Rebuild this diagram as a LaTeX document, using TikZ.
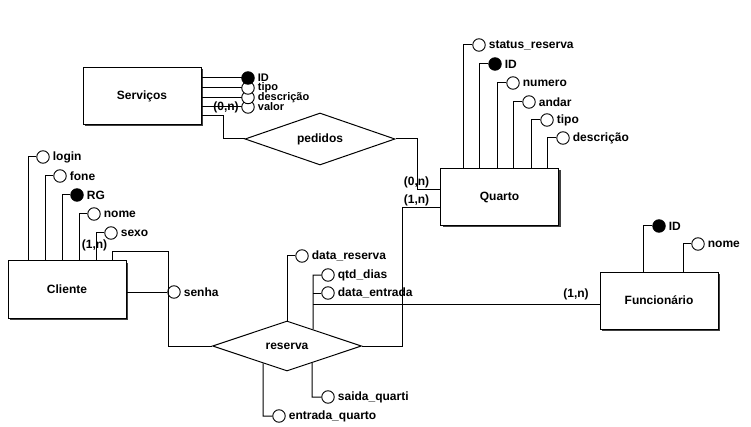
\documentclass[tikz,border=0pt]{standalone}
\usepackage{fontspec}
\setmainfont{Liberation Sans}
\usetikzlibrary{shapes.geometric,shadows}
\begin{document}
\begin{tikzpicture}[x=1pt,y=-1pt,
  every node/.style={font=\fontsize{12}{13}\selectfont\bfseries},
  entity/.style={draw, fill=white, line width=1pt, minimum width=118pt,
    minimum height=57pt, inner sep=0pt,
    drop shadow={shadow xshift=2pt, shadow yshift=-2pt, opacity=1, fill=black!75}},
  rel/.style={draw, fill=white, diamond, aspect=3, inner sep=0pt,
    minimum width=150pt, minimum height=50pt, line width=1pt},
  attr/.style={draw, circle, fill=white, minimum size=12.5pt, inner sep=0pt, line width=0.9pt},
  key/.style={attr, fill=black},
  lbl/.style={anchor=west, inner sep=0pt, xshift=3pt},
  stacklbl/.style={lbl, font=\fontsize{11}{11}\selectfont\bfseries},
  card/.style={inner sep=0pt},
  conn/.style={line width=1pt}
]
\useasboundingbox[fill=white] (0,0) rectangle (751,427);

% ---------- entities ----------
\node[entity] (serv) at (142,96)    {Serviços};
\node[entity] (qua)  at (499.5,197) {Quarto};
\node[entity] (cli)  at (67,289.5)  {Cliente};
\node[entity] (fun)  at (659,300.5) {Funcionário};

% ---------- relationships ----------
\node[rel, minimum height=52pt] (ped) at (320,139) {pedidos};
\node[rel, minimum width=149pt, minimum height=50pt] (res) at (287,346) {reserva};

% ---------- Serviços attributes (stacked, lowest drawn first) ----------
\foreach \y in {107, 97.5, 88, 78}
  \draw[conn] (serv.east |- 0,\y) -- (248,\y);
\node[attr] (sv4) at (248,107) {};
\node[attr] (sv3) at (248,97.5) {};
\node[attr] (sv2) at (248,88) {};
\node[key]  (sv1) at (248,78) {};
\node[stacklbl] at (sv1.east) {ID};
\node[stacklbl] at (sv2.east) {tipo};
\node[stacklbl] at (sv3.east) {descrição};
\node[stacklbl] at (sv4.east) {valor};
\node[card] (cserv) at (226,107) {(0,n)};

% ---------- Serviços -- pedidos -- Quarto ----------
\draw[conn] (serv.east |- 0,116) -- (223,116) -- (223,139) -- (ped.west);
\draw[conn] (ped.east) -- (417,139) -- (417,190) -- (qua.west |- 0,190);
\node[card] (cq1) at (416.5,182) {(0,n)};

% ---------- Quarto attributes ----------
\foreach \vx/\cy/\nm/\txt/\st in {463/45/qa1/status\_reserva/attr, 479/64/qa2/ID/key,
    497/83/qa3/numero/attr, 513/102/qa4/andar/attr, 531/120/qa5/tipo/attr,
    547/138/qa6/descrição/attr}{
  \node[\st] (\nm) at (\vx+16,\cy) {};
  \node[lbl] at (\nm.east) {\txt};
  \draw[conn] (\vx,0 |- qua.north) -- (\vx,\cy) -- (\nm.west);
}

% ---------- Cliente attributes ----------
\foreach \vx/\cy/\nm/\txt/\st in {28/157/ca1/login/attr, 45/176/ca2/fone/attr,
    62/195/ca3/RG/key, 79/214/ca4/nome/attr, 96/233/ca5/sexo/attr}{
  \node[\st] (\nm) at (\vx+15,\cy) {};
  \node[lbl] at (\nm.east) {\txt};
  \draw[conn] (\vx,0 |- cli.north) -- (\vx,\cy) -- (\nm.west);
}

% ---------- Cliente -- senha ----------
\node[attr] (senha) at (174,292) {};
\node[lbl] at (senha.east) {senha};
\draw[conn] (cli.east |- senha) -- (senha.west);

% ---------- Cliente -- reserva ----------
\draw[conn] (112,0 |- cli.north) -- (112,251.5) -- (168,251.5) -- (168,346) -- (res.west);
\node[card] (ccli) at (94.5,245) {(1,n)};

% ---------- reserva -- Quarto ----------
\draw[conn] (res.east) -- (402,346) -- (402,208) -- (qua.west |- 0,208);
\node[card] (cq2) at (416.5,200) {(1,n)};

% ---------- reserva attributes ----------
\node[attr] (dres) at (302,256) {};
\node[lbl] at (dres.east) {data\_reserva};
\draw[conn] (res.north) -- (287,256) -- (dres.west);

\coordinate (rne) at (intersection of res.north--res.east and 313,300--313,400);
\node[attr] (qtd) at (328,275) {};
\node[lbl] at (qtd.east) {qtd\_dias};
\node[attr] (dent) at (328,293) {};
\node[lbl] at (dent.east) {data\_entrada};
\draw[conn] (rne) -- (313,275) -- (qtd.west);
\draw[conn] (313,293) -- (dent.west);

% ---------- reserva -- Funcionário ----------
\draw[conn] (313,304) -- (fun.west |- 0,304);
\node[card] (cfun) at (576,294) {(1,n)};

\coordinate (rse) at (intersection of res.south--res.east and 312,300--312,420);
\node[attr] (saida) at (328,397) {};
\node[lbl] at (saida.east) {saida\_quarti};
\draw[conn] (rse) -- (312,397) -- (saida.west);

\coordinate (rsw) at (intersection of res.south--res.west and 263,300--263,420);
\node[attr] (entq) at (279,416) {};
\node[lbl] at (entq.east) {entrada\_quarto};
\draw[conn] (rsw) -- (263,416) -- (entq.west);

% ---------- Funcionário attributes ----------
\node[key] (fa1) at (659,226) {};
\node[lbl] at (fa1.east) {ID};
\draw[conn] (643,0 |- fun.north) -- (643,226) -- (fa1.west);
\node[attr] (fa2) at (698,244) {};
\node[lbl] at (fa2.east) {nome};
\draw[conn] (683,0 |- fun.north) -- (683,244) -- (fa2.west);
\end{tikzpicture}
\end{document}
